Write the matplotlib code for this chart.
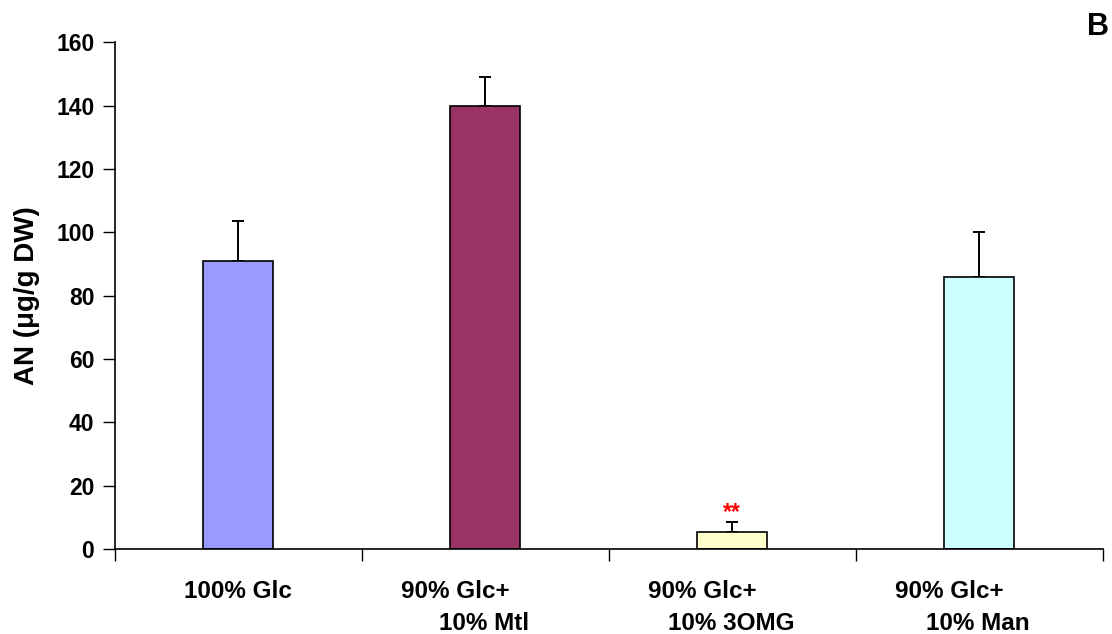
import matplotlib
matplotlib.use("Agg")
import matplotlib.pyplot as plt
import numpy as np

# valeurs
line1 = ["100% Glc", "90% Glc+", "90% Glc+", "90% Glc+"]
line2 = ["", "10% Mtl", "10% 3OMG", "10% Man"]
means = [91, 140, 5.5, 86]
errors = [12.5, 9, 3, 14]
colors = ["#9999FF", "#993366", "#FFFFCC", "#CCFFFF"]
yticks = [0, 20, 40, 60, 80, 100, 120, 140, 160]

plt.rcParams["font.family"] = ["Liberation Sans", "DejaVu Sans"]
plt.rcParams["font.weight"] = "bold"

fig = plt.figure(figsize=(11.12, 6.34), dpi=100)
ax = fig.add_axes([114.5 / 1112, 1 - 549 / 634, 988 / 1112, 506.5 / 634])

x = np.arange(len(means)) + 0.5
ax.bar(x, means, width=0.287, color=colors, edgecolor="black", linewidth=1.2, zorder=2)
ax.errorbar(x, means, yerr=[np.zeros(len(errors)), errors], fmt="none",
            ecolor="black", elinewidth=1.4, capsize=4.3, capthick=1.4, zorder=1)

ax.set_xlim(0, len(means))
ax.set_ylim(0, 160)
ax.set_yticks(yticks)
ax.set_yticklabels([str(v) for v in yticks], fontsize=16.5, fontweight="bold")
ax.set_xticks(np.arange(len(means) + 1))
ax.set_xticklabels([])
ax.tick_params(axis="both", direction="out", length=8.5, width=1, color="black")
ax.tick_params(axis="y", pad=6)

for side in ["top", "right"]:
    ax.spines[side].set_visible(False)
for side in ["left", "bottom"]:
    ax.spines[side].set_linewidth(1.2)

for xi, t1, t2 in zip(x, line1, line2):
    dx = 0 if not t2 else -21.6
    ax.annotate(t1, xy=(xi, 0), xycoords=("data", "axes fraction"),
                xytext=(dx, -35.3), textcoords="offset points",
                ha="center", va="baseline", fontsize=17.5, fontweight="bold")
    if t2:
        ax.annotate(t2, xy=(xi, 0), xycoords=("data", "axes fraction"),
                    xytext=(-0.7, -58.3), textcoords="offset points",
                    ha="center", va="baseline", fontsize=17.5, fontweight="bold")

# significatif
ax.annotate("**", xy=(x[2], means[2] + errors[2]), xytext=(0, 2),
            textcoords="offset points", ha="center", va="baseline",
            fontsize=16.5, fontweight="bold", color="red")

fig.text(27 / 1112, 1 - 296 / 634, "AN (\u03bcg/g DW)", rotation=90,
         ha="center", va="center", fontsize=20, fontweight="bold")
fig.text(1098 / 1112, 1 - 35 / 634, "B", ha="center", va="baseline",
         fontsize=22, fontweight="bold")

fig.savefig("out.png", dpi=100)
